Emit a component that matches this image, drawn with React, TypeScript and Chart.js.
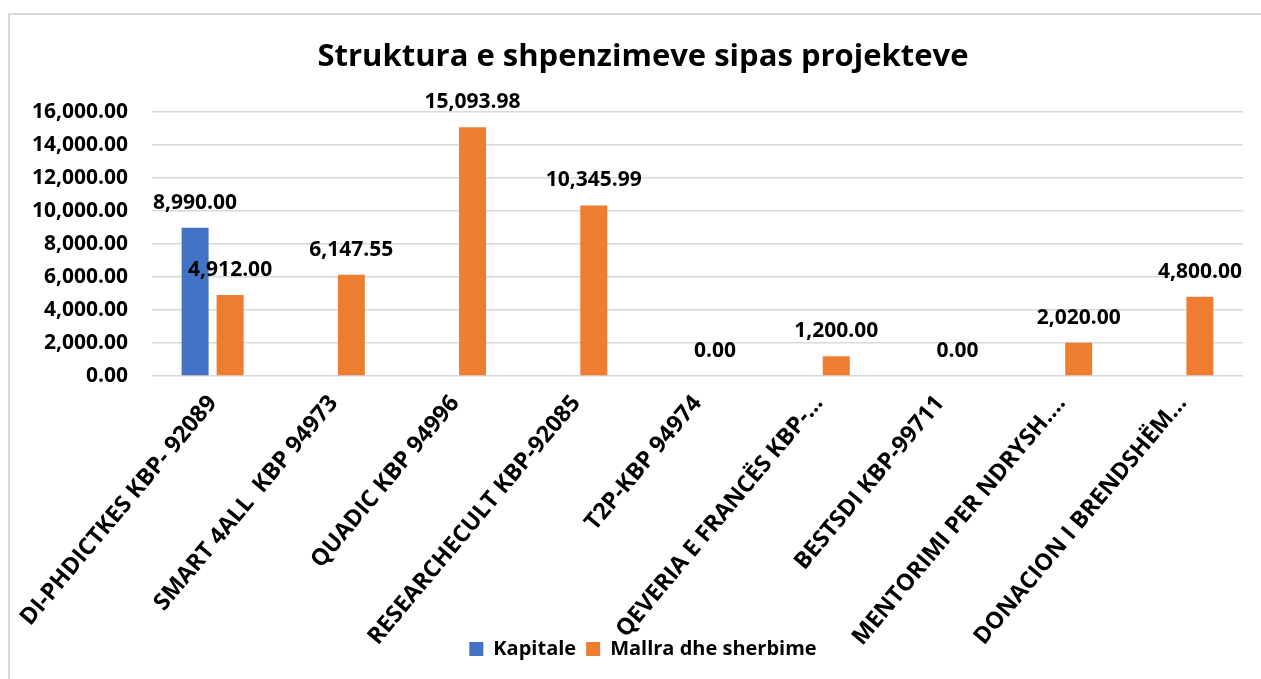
import React, { useEffect, useRef } from "react";
import { Chart, registerables } from "chart.js";

Chart.register(...registerables);

const categories = [
  "DI-PHDICTKES KBP- 92089",
  "SMART 4ALL  KBP 94973",
  "QUADIC KBP 94996",
  "RESEARCHECULT KBP-92085",
  "T2P-KBP 94974",
  "QEVERIA E FRANCËS KBP-…",
  "BESTSDI KBP-99711",
  "MENTORIMI PER NDRYSH.…",
  "DONACION I BRENDSHËM…",
];

const kapitale: (number | null)[] = [8990, null, null, null, null, null, null, null, null];
const mallra: (number | null)[] = [4912, 6147.55, 15093.98, 10345.99, 0, 1200, 0, 2020, 4800];

const yTicks = [0, 2000, 4000, 6000, 8000, 10000, 12000, 14000, 16000];

const FONT = "'Open Sans'";

const fmt = (v: number) =>
  v.toLocaleString("en-US", { minimumFractionDigits: 2, maximumFractionDigits: 2 });

const valueLabels = {
  id: "valueLabels",
  afterDatasetsDraw(chart: any) {
    const ctx = chart.ctx;
    ctx.save();
    ctx.font = `bold 21px ${FONT}`;
    ctx.fillStyle = "#000";
    ctx.textAlign = "center";
    ctx.textBaseline = "alphabetic";
    chart.data.datasets.forEach((ds: any, di: number) => {
      const meta = chart.getDatasetMeta(di);
      if (meta.hidden) return;
      meta.data.forEach((el: any, i: number) => {
        const v = ds.data[i];
        if (v === null || v === undefined) return;
        ctx.fillText(fmt(v), el.x, el.y - 19);
      });
    });
    ctx.restore();
  },
};

export default function App() {
  const ref = useRef<HTMLCanvasElement>(null);
  useEffect(() => {
    if (!ref.current) return;
    const chart = new Chart(ref.current, {
      type: "bar",
      data: {
        labels: categories,
        datasets: [
          {
            label: "Kapitale",
            data: kapitale,
            backgroundColor: "#4472C4",
            categoryPercentage: 0.578,
            barPercentage: 0.77,
          },
          {
            label: "Mallra dhe sherbime",
            data: mallra,
            backgroundColor: "#ED7D31",
            categoryPercentage: 0.578,
            barPercentage: 0.77,
          },
        ],
      },
      options: {
        animation: false,
        responsive: true,
        maintainAspectRatio: false,
        layout: { padding: { left: 0, right: 0, top: 0, bottom: 10 } },
        plugins: {
          title: {
            display: true,
            text: "Struktura e shpenzimeve sipas projekteve",
            color: "#000",
            font: { family: FONT, size: 31, weight: "bold" },
            padding: { top: 24, bottom: 36 },
          },
          legend: {
            position: "bottom",
            labels: {
              color: "#000",
              font: { family: FONT, size: 20, weight: "bold" },
              boxWidth: 14,
              boxHeight: 14,
              padding: 10,
            },
          },
          tooltip: { enabled: false },
        },
        scales: {
          x: {
            grid: { display: false },
            border: { display: false },
            ticks: {
              color: "#000",
              font: { family: FONT, size: 23.3, weight: "bold" },
              maxRotation: 50,
              minRotation: 50,
              autoSkip: false,
              padding: 6,
            },
            afterFit: (s: any) => {
              s.height = 253;
              s._computeLabelArea = () => undefined;
            },
          },
          y: {
            min: 0,
            max: 16000,
            afterBuildTicks: (s: any) => {
              s.ticks = yTicks.map((v) => ({ value: v }));
            },
            grid: { color: "#d9d9d9", lineWidth: 1.5, drawTicks: false },
            border: { display: false },
            ticks: {
              color: "#000",
              font: { family: FONT, size: 21, weight: "bold" },
              padding: 24,
              callback: (v: any) => fmt(Number(v)),
            },
            afterFit: (s: any) => {
              s.width = 142;
            },
          },
          yRight: {
            position: "right",
            min: 0,
            max: 1,
            grid: { display: false },
            border: { display: false },
            ticks: { display: false },
            afterFit: (s: any) => {
              s.width = 33;
            },
          },
        },
      },
      plugins: [valueLabels],
    });
    return () => chart.destroy();
  }, []);

  return (
    <div
      style={{
        position: "fixed",
        left: 0,
        top: 0,
        width: "100vw",
        height: "100vh",
        overflow: "hidden",
        background: "#fff",
      }}
    >
      <div
        style={{
          position: "absolute",
          left: 8,
          top: 13,
          width: 1268,
          height: 666,
          boxSizing: "border-box",
          borderTop: "2px solid #d9d9d9",
          borderLeft: "2px solid #d9d9d9",
        }}
      >
        <canvas ref={ref} />
      </div>
    </div>
  );
}
